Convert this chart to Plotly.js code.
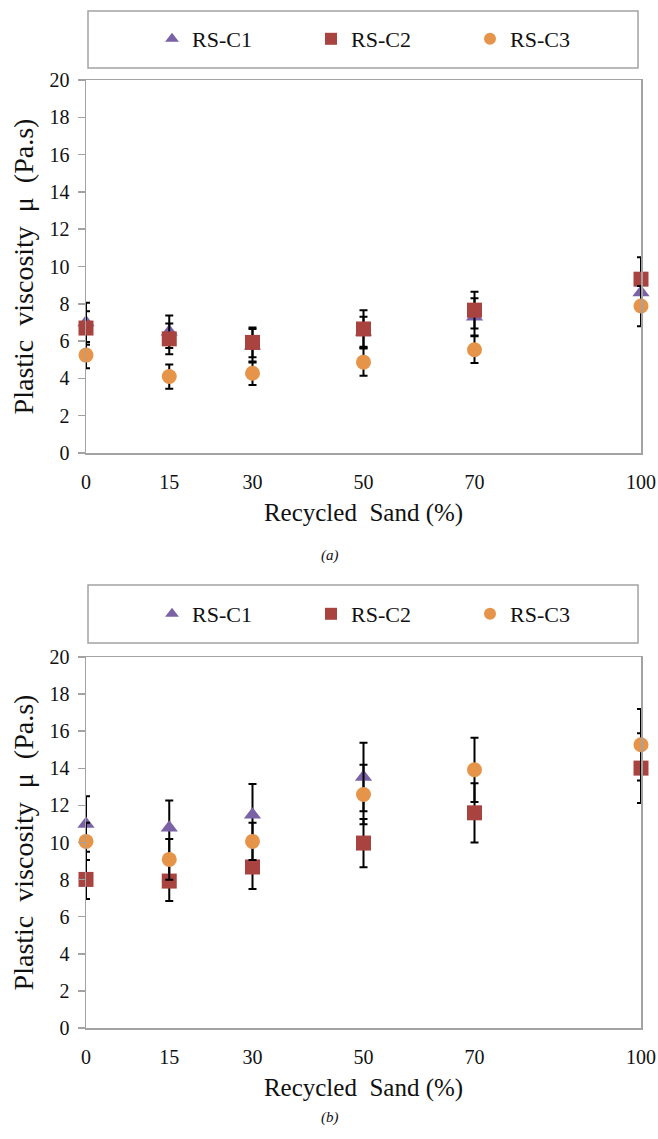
<!DOCTYPE html>
<html>
<head>
<meta charset="utf-8">
<script src="https://cdn.plot.ly/plotly-3.0.1.min.js"></script>
<style>
  html, body { margin: 0; padding: 0; background: #ffffff; }
  #chart { width: 658px; height: 1139px; }
</style>
</head>
<body>
<div id="chart"></div>
<script>
// Recycled sand replacement levels (%) and their tick labels
const sandPct = [0, 15, 30, 50, 70, 100];
const sandTickText = ['0', '15', '30', '50', '70', '100'];
const seriesNames = ['RS-C1', 'RS-C2', 'RS-C3'];

// Panel (a): plastic viscosity (Pa.s) and error half-widths
const c1A = [7.0, 6.5, 5.75, 6.5, 7.3, 8.6];
const c1AErr = [1.06, 0.87, 0.9, 0.8, 1.0, 0.9];
const c2A = [6.7, 6.12, 5.93, 6.65, 7.66, 9.32];
const c2AErr = [0.9, 0.82, 0.8, 1.0, 0.98, 1.17];
const c3A = [5.25, 4.1, 4.28, 4.87, 5.54, 7.88];
const c3AErr = [0.7, 0.65, 0.63, 0.73, 0.72, 1.08];

// Panel (b): plastic viscosity (Pa.s) and error half-widths
const c1B = [11.0, 10.8, 11.5, 13.53, null, null];
const c1BErr = [1.5, 1.47, 1.65, 1.85, null, null];
const c2B = [8.01, 7.92, 8.68, 9.97, 11.6, 14.01];
const c2BErr = [1.05, 1.08, 1.18, 1.3, 1.6, 1.88];
const c3B = [10.06, 9.09, 10.06, 12.59, 13.92, 15.27];
const c3BErr = [1.0, 1.1, 1.0, 1.6, 1.73, 1.93];

const FIG_W = 658, FIG_H = 1139;
const M_L = 86, M_R = 17;
const PLOT_W = FIG_W - M_L - M_R;
const px2x = p => (p - M_L) / PLOT_W;
const px2y = p => 1 - p / FIG_H;

const serif = '"Liberation Serif", "Times New Roman", serif';
const ink = '#111111';
const axisGray = '#a3a3a3';

const styles = [
  {symbol: 'triangle-up', color: '#7b62a6', size: 15},
  {symbol: 'square', color: '#a8433f', size: 15},
  {symbol: 'circle', color: '#e5944a', size: 15}
];

function makeTrace(k, ys, errs, xa, ya, leg) {
  const s = styles[k];
  return {
    type: 'scatter', mode: 'markers',
    x: sandPct, y: ys,
    name: seriesNames[k],
    xaxis: xa, yaxis: ya, legend: leg,
    cliponaxis: false,
    marker: {symbol: s.symbol, color: s.color, size: s.size, line: {width: 0}},
    error_y: {type: 'data', array: errs, visible: true, color: '#000000', thickness: 2, width: 4}
  };
}

const traces = [
  makeTrace(0, c1A, c1AErr, 'x', 'y', 'legend'),
  makeTrace(1, c2A, c2AErr, 'x', 'y', 'legend'),
  makeTrace(2, c3A, c3AErr, 'x', 'y', 'legend'),
  makeTrace(0, c1B, c1BErr, 'x2', 'y2', 'legend2'),
  makeTrace(1, c2B, c2BErr, 'x2', 'y2', 'legend2'),
  makeTrace(2, c3B, c3BErr, 'x2', 'y2', 'legend2')
];

function xAxis(anchor) {
  return {
    anchor: anchor, domain: [0, 1], range: [0, 100],
    tickmode: 'array', tickvals: sandPct, ticktext: sandTickText,
    ticks: '', showgrid: false, zeroline: false,
    showline: true, linecolor: axisGray, linewidth: 1.5, mirror: true,
    tickfont: {family: serif, size: 20, color: ink},
    ticklabelstandoff: 10,
    automargin: false,
    title: {text: 'Recycled\u00a0\u00a0Sand (%)', font: {family: serif, size: 25, color: ink}, standoff: 12}
  };
}
function yAxis(anchor, top, bottom) {
  return {
    anchor: anchor, domain: [px2y(bottom), px2y(top)], range: [0, 20], dtick: 2,
    ticks: 'outside', ticklen: 7, tickwidth: 1.5, tickcolor: axisGray,
    showgrid: false, zeroline: false,
    showline: true, linecolor: axisGray, linewidth: 1.5, mirror: true,
    tickfont: {family: serif, size: 20, color: ink},
    ticklabelstandoff: 4,
    automargin: false,
    title: {text: 'Plastic\u00a0\u00a0viscosity\u00a0\u00a0\u03bc\u00a0\u00a0(Pa.s)', font: {family: serif, size: 28, color: ink}, standoff: 7}
  };
}

function legendBox(top, bottom) {
  return {
    type: 'rect', xref: 'paper', yref: 'paper',
    x0: px2x(88), x1: px2x(638), y0: px2y(bottom), y1: px2y(top),
    line: {color: axisGray, width: 1.5}, fillcolor: 'rgba(0,0,0,0)', layer: 'below'
  };
}
function legendSpec(centerY) {
  return {
    orientation: 'h', x: px2x(152), xanchor: 'left', y: px2y(centerY), yanchor: 'middle',
    entrywidth: 114, entrywidthmode: 'pixels', itemsizing: 'constant',
    font: {family: serif, size: 22, color: ink}, bgcolor: 'rgba(0,0,0,0)', borderwidth: 0
  };
}

const layout = {
  width: FIG_W, height: FIG_H,
  margin: {l: M_L, r: M_R, t: 0, b: 0},
  paper_bgcolor: '#ffffff', plot_bgcolor: '#ffffff',
  font: {family: serif, color: ink},
  xaxis: xAxis('y'),
  yaxis: yAxis('x', 80, 453),
  xaxis2: xAxis('y2'),
  yaxis2: yAxis('x2', 657, 1028),
  showlegend: true,
  legend: legendSpec(39),
  legend2: legendSpec(614),
  shapes: [legendBox(11, 68), legendBox(585, 643)],
  annotations: [
    {text: '<i>(a)</i>', xref: 'paper', yref: 'paper', x: px2x(330), y: px2y(555), showarrow: false,
     font: {family: serif, size: 15, color: ink}},
    {text: '<i>(b)</i>', xref: 'paper', yref: 'paper', x: px2x(330), y: px2y(1128), showarrow: false,
     font: {family: serif, size: 15, color: ink}}
  ]
};

Plotly.newPlot('chart', traces, layout, {staticPlot: true, displayModeBar: false});
</script>
</body>
</html>
